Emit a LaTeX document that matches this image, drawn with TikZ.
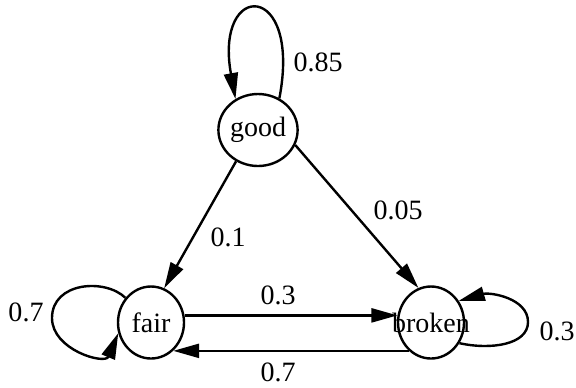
\documentclass[tikz,border=0pt]{standalone}
\usepackage{fontspec}
\setmainfont{Liberation Serif}
\usetikzlibrary{shapes.geometric,arrows.meta}

\begin{document}
\begin{tikzpicture}[x=0.5pt,y=-0.5pt,
    state/.style={ellipse,draw,line width=1.2pt,inner sep=0pt,
      minimum width=33pt,minimum height=36pt,font=\fontsize{14}{16}\selectfont},
    prob/.style={inner sep=0pt,font=\fontsize{14}{16}\selectfont},
    trans/.style={line width=1.2pt,-{Triangle[length=13pt,width=7pt]}}]
  \useasboundingbox (0,0) rectangle (576,387);

  % the three states
  \node[state] (good) at (258,130) {good};
  \node[state] (fair) at (151,322.5) {fair};
  \node[state] (broken) at (431,322.5) {\makebox[0pt]{broken}};

  % transitions between states
  \draw[trans] (good.-125) -- (fair.69);
  \draw[trans] (good.-22) -- (broken.110);
  \draw[trans] (fair.12) -- (broken.168);
  \draw[trans] (broken.-128) -- (fair.-52);

  % self loops
  \draw[trans] (good.56) .. controls (302,-20) and (214,-20) .. (good.126);
  \draw[trans] (fair.136) .. controls (105,278) and (52,282) .. (52,318)
    .. controls (52,350) and (105,365) .. (fair.198);
  \draw[trans] (broken.-36) .. controls (490,350) and (528,345) .. (528,322)
    .. controls (528,298) and (490,292) .. (broken.38);

  % probabilities
  \node[prob] (pgg) at (318,62) {0.85};
  \node[prob] (pgf) at (228,237) {0.1};
  \node[prob] (pgb) at (398,210) {0.05};
  \node[prob] (pfb) at (278,295) {0.3};
  \node[prob] (pbf) at (278,372) {0.7};
  \node[prob] (pff) at (26,312) {0.7};
  \node[prob] (pbb) at (557,331) {0.3};
\end{tikzpicture}
\end{document}
